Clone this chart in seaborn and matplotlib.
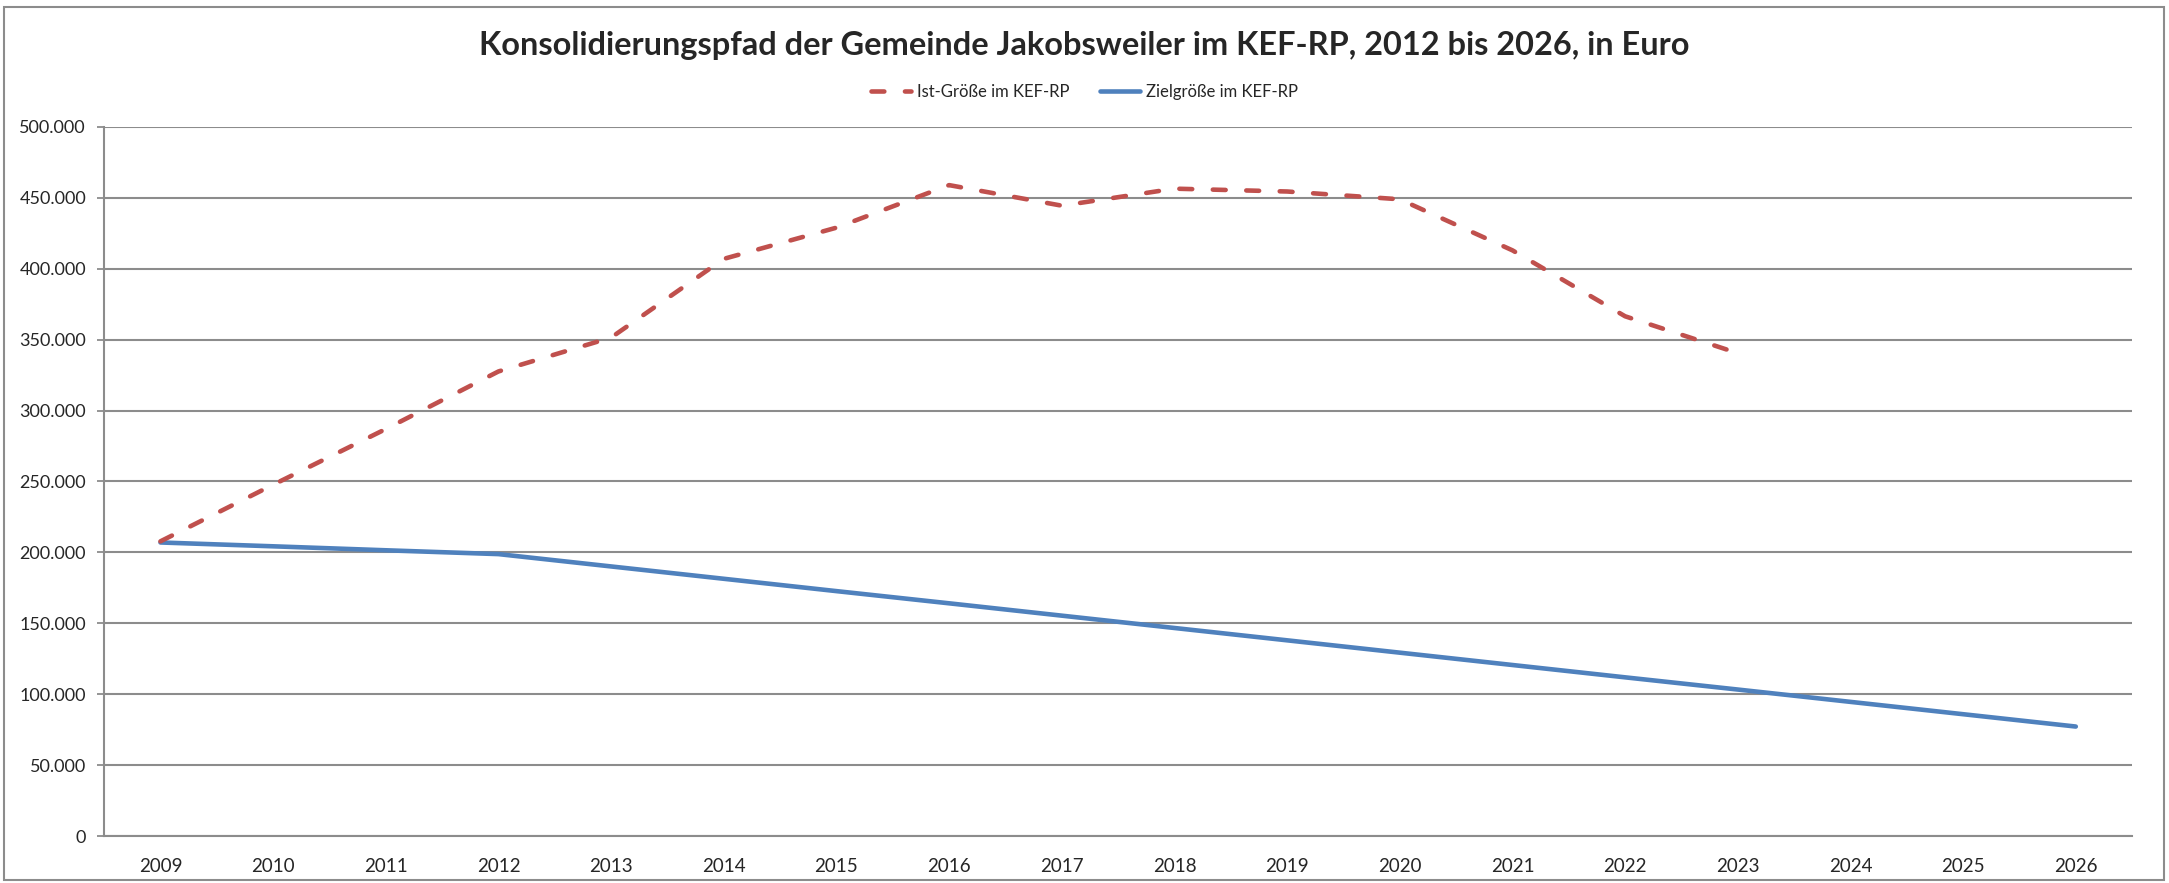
import numpy as np
import pandas as pd
import matplotlib
matplotlib.use("Agg")
import matplotlib.pyplot as plt
from matplotlib.ticker import FuncFormatter, MultipleLocator, FixedLocator
from matplotlib.patches import Rectangle
from matplotlib.lines import Line2D
import seaborn as sns

# years on the x axis
years = list(range(2009, 2027))

# Ist-Größe (actual) - only known up to 2023
ist = [207800, 247700, 287000, 327600, 351500, 407000, 429000, 459000,
       444500, 456500, 454500, 449000, 413000, 366500, 340500,
       np.nan, np.nan, np.nan]

# Zielgröße (target path)
ziel = [207000, 204300, 201500, 198800, 190100, 181400, 172700, 164100,
        155400, 146700, 138000, 129300, 120600, 111900, 103300, 94600,
        85900, 77200]

title = "Konsolidierungspfad der Gemeinde Jakobsweiler im KEF-RP, 2012 bis 2026, in Euro"
label_ist = "Ist-Größe im KEF-RP"
label_ziel = "Zielgröße im KEF-RP"

red = "#C0504D"
blue = "#4F81BD"
grid_gray = "#8C8C8C"

df = pd.DataFrame({"Jahr": years, "Ist": ist, "Ziel": ziel})

sns.set_style("white")
plt.rcParams["font.family"] = ["Lato", "DejaVu Sans"]

fig = plt.figure(figsize=(21.69, 8.83), dpi=100)
ax = fig.add_axes([0.048, 0.0532, 0.935, 0.803])

sns.lineplot(data=df, x="Jahr", y="Ziel", ax=ax, color=blue, linewidth=3.3,
             solid_capstyle="round")
sns.lineplot(data=df, x="Jahr", y="Ist", ax=ax, color=red, linewidth=3.3,
             linestyle=(0, (2.8, 4.5)), dash_capstyle="round")

ax.set_xlim(years[0] - 0.5, years[-1] + 0.5)
ax.set_ylim(0, 500000)
ax.set_xlabel("")
ax.set_ylabel("")

# y axis: gridlines every 50.000, German thousands separator
ax.yaxis.set_major_locator(MultipleLocator(50000))
ax.yaxis.set_major_formatter(FuncFormatter(lambda v, p: f"{int(v):,}".replace(",", ".")))
ax.grid(axis="y", color=grid_gray, linewidth=1.5)
ax.set_axisbelow(True)

# x axis: labels at category centres, tick marks at category borders
ax.xaxis.set_major_locator(FixedLocator(years))
ax.set_xticklabels([str(y) for y in years])
ax.xaxis.set_minor_locator(FixedLocator([y - 0.5 for y in years] + [years[-1] + 0.5]))
ax.tick_params(axis="x", which="major", length=0, pad=16, labelsize=13.5)
ax.tick_params(axis="x", which="minor", length=5, width=1.3, color=grid_gray, direction="out")
ax.tick_params(axis="y", which="major", length=5, width=1.3, color=grid_gray,
               direction="out", pad=8, labelsize=13, left=True)

for side in ["top", "right"]:
    ax.spines[side].set_visible(False)
for side in ["left", "bottom"]:
    ax.spines[side].set_color(grid_gray)
    ax.spines[side].set_linewidth(1.5)

fig.text(0.5, 0.949, title, ha="center", va="center", fontsize=23.4, fontweight="bold")

handles = [
    Line2D([], [], color=red, linewidth=3.3, linestyle=(0, (2.8, 4.5)), dash_capstyle="round"),
    Line2D([], [], color=blue, linewidth=3.3),
]
fig.legend(handles, [label_ist, label_ziel], loc="center", bbox_to_anchor=(0.5, 0.896),
           ncol=2, frameon=False, fontsize=12, handlelength=2.4, handletextpad=0.4,
           columnspacing=1.8)

# outer chart border
fig.patches.append(Rectangle((0.0018, 0.0034), 0.996, 0.9887, transform=fig.transFigure,
                             fill=False, edgecolor=grid_gray, linewidth=1.5))

fig.savefig("out.png", dpi=100)
